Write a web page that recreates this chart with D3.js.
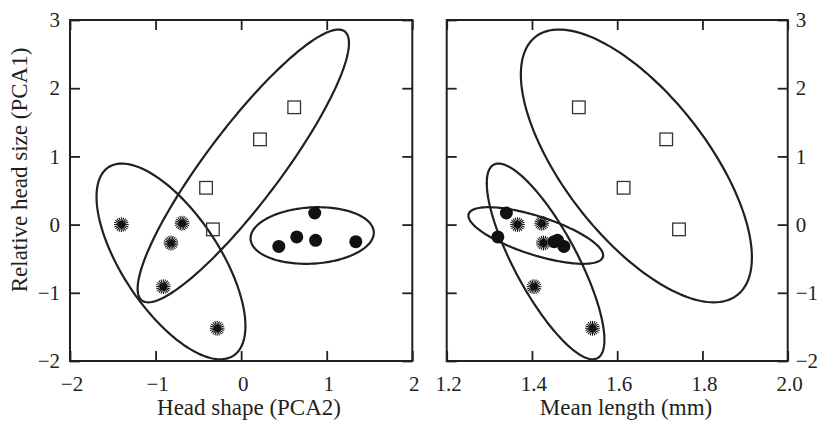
<!DOCTYPE html>
<html>
<head>
<meta charset="utf-8">
<script src="https://cdn.jsdelivr.net/npm/d3@7"></script>
<style>
  body { margin: 0; background: #fff; }
  text { font-family: "Liberation Serif", "Times New Roman", serif; fill: #231f20; }
</style>
</head>
<body>
<svg width="817" height="422"></svg>
<script>
// group values
const sqShape  = [0.62, 0.22, -0.41, -0.33];
const sqLength = [1.51, 1.715, 1.615, 1.745];
const sqSize   = [1.72, 1.25, 0.54, -0.07];

const dotShape  = [0.86, 0.44, 0.65, 0.87, 1.34];
const dotLength = [1.34, 1.475, 1.32, 1.46, 1.452];
const dotSize   = [0.17, -0.32, -0.18, -0.23, -0.25];

const starShape  = [-1.40, -0.69, -0.82, -0.91, -0.28];
const starLength = [1.366, 1.423, 1.427, 1.405, 1.542];
const starSize   = [0.00, 0.02, -0.27, -0.91, -1.52];

// ellipses: centre, half-extent in x and y, and the tilt (correlation)
// order: squares, dots, stars
const ellShapeCx = [0.025, 0.83, -0.82];
const ellShapeSx = [1.235, 0.72, 0.87];
const ellShapeR  = [0.90, 0.10, -0.66];
const ellLengthCx = [1.645, 1.409, 1.432];
const ellLengthSx = [0.271, 0.158, 0.138];
const ellLengthR  = [-0.67, -0.70, -0.80];
const ellCy = [0.86, -0.16, -0.54];
const ellSy = [2.0, 0.415, 1.435];

const yTicks = [3, 2, 1, 0, -1, -2];
const shapeTicks = [-2, -1, 0, 1, 2];
const lengthTicks = [1.2, 1.4, 1.6, 1.8, 2.0];

const ink = "#231f20";
const svg = d3.select("svg");
const plotTop = 20, plotBottom = 361;
const y = d3.scaleLinear().domain([-2, 3]).range([plotBottom, plotTop]);

function drawPanel(opts) {
    const x = d3.scaleLinear().domain(opts.domain).range(opts.range);
    const g = svg.append("g");

    // axes (inward ticks)
    const bx = g.append("g").attr("transform", `translate(0,${plotBottom})`)
        .call(d3.axisBottom(x).tickValues(opts.ticks).tickSize(-10).tickPadding(15).tickFormat(opts.fmt));
    g.append("g").attr("transform", `translate(0,${plotTop})`)
        .call(d3.axisTop(x).tickValues(opts.ticks).tickSize(-10).tickFormat(""));
    g.append("g").attr("transform", `translate(${opts.range[0]},0)`)
        .call(d3.axisLeft(y).tickValues(yTicks).tickSize(-10).tickPadding(10)
            .tickFormat(opts.labelsLeft ? d3.format("d") : ""));
    g.append("g").attr("transform", `translate(${opts.range[1]},0)`)
        .call(d3.axisRight(y).tickValues(yTicks).tickSize(-10).tickPadding(8)
            .tickFormat(opts.labelsLeft ? "" : d3.format("d")));
    g.selectAll(".domain").remove();
    g.selectAll(".tick line").attr("stroke", ink).attr("stroke-width", 1.8);
    g.selectAll(".tick text").attr("font-size", 21).attr("fill", ink)
        .attr("font-family", "Liberation Serif, serif");
    bx.selectAll(".tick text").attr("dx", 1.5);

    // frame
    g.append("rect")
        .attr("x", opts.range[0]).attr("y", plotTop)
        .attr("width", opts.range[1] - opts.range[0]).attr("height", plotBottom - plotTop)
        .attr("fill", "none").attr("stroke", ink).attr("stroke-width", 2);

    // ellipses
    const line = d3.line().curve(d3.curveLinearClosed);
    opts.ellCx.forEach((cx, i) => {
        const sx = opts.ellSx[i], sy = ellSy[i], r = opts.ellR[i];
        const pts = d3.range(0, 2 * Math.PI, Math.PI / 90).map(t => [
            x(cx + sx * Math.cos(t)),
            y(ellCy[i] + sy * (r * Math.cos(t) + Math.sqrt(1 - r * r) * Math.sin(t)))
        ]);
        g.append("path").attr("d", line(pts))
            .attr("fill", "none").attr("stroke", ink).attr("stroke-width", 2.2);
    });

    // open squares
    g.selectAll(".sq").data(d3.zip(opts.sqX, sqSize)).enter().append("rect")
        .attr("class", "sq")
        .attr("x", d => x(d[0]) - 6.3).attr("y", d => y(d[1]) - 6.3)
        .attr("width", 12.6).attr("height", 12.6)
        .attr("fill", "none").attr("stroke", "#333").attr("stroke-width", 1.3);

    // filled dots
    g.selectAll(".dot").data(d3.zip(opts.dotX, dotSize)).enter().append("circle")
        .attr("class", "dot")
        .attr("cx", d => x(d[0])).attr("cy", d => y(d[1])).attr("r", 6.5)
        .attr("fill", "#111");

    // starbursts
    const rays = d3.range(20).map(k => k * Math.PI / 10);
    const star = g.selectAll(".star").data(d3.zip(opts.starX, starSize)).enter().append("g")
        .attr("class", "star")
        .attr("transform", d => `translate(${x(d[0])},${y(d[1])})`);
    star.selectAll("line").data(rays).enter().append("line")
        .attr("x1", 0).attr("y1", 0)
        .attr("x2", a => 7.4 * Math.cos(a)).attr("y2", a => 7.4 * Math.sin(a))
        .attr("stroke", "#111").attr("stroke-width", 1.05);
    star.append("circle").attr("r", 3.6).attr("fill", "#111");

    // x title
    g.append("text")
        .attr("x", opts.titleX).attr("y", 415)
        .attr("text-anchor", "middle").attr("font-size", 23)
        .text(opts.title);
}

drawPanel({
    domain: [-2, 2], range: [70, 412.3], ticks: shapeTicks, fmt: d3.format("d"),
    labelsLeft: true,
    ellCx: ellShapeCx, ellSx: ellShapeSx, ellR: ellShapeR,
    sqX: sqShape, dotX: dotShape, starX: starShape,
    title: "Head shape (PCA2)", titleX: 249
});

drawPanel({
    domain: [1.2, 2.0], range: [446.7, 787.7], ticks: lengthTicks, fmt: d3.format(".1f"),
    labelsLeft: false,
    ellCx: ellLengthCx, ellSx: ellLengthSx, ellR: ellLengthR,
    sqX: sqLength, dotX: dotLength, starX: starLength,
    title: "Mean length (mm)", titleX: 626
});

// y title
svg.append("text")
    .attr("transform", "translate(27,170) rotate(-90)")
    .attr("text-anchor", "middle").attr("font-size", 23)
    .text("Relative head size (PCA1)");
</script>
</body>
</html>
